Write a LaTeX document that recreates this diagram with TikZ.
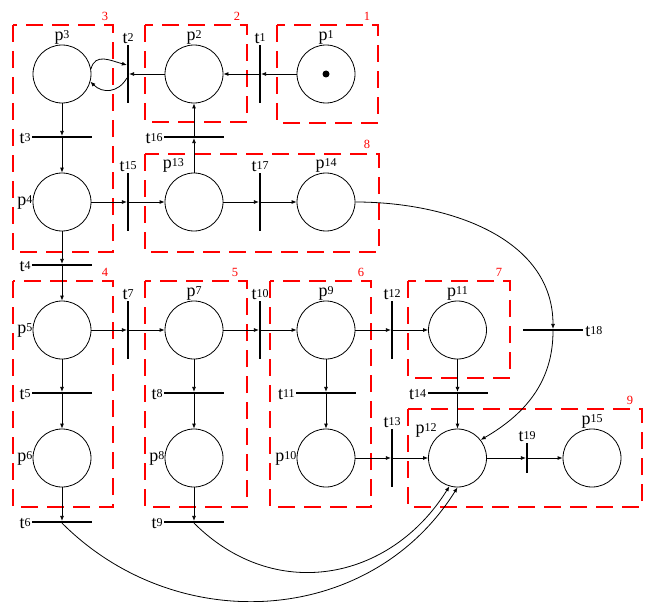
\documentclass[tikz,border=0pt]{standalone}
\usepackage{fontspec}
\setmainfont{Liberation Serif}
\usetikzlibrary{arrows.meta,calc}
\newcommand{\PN}[2]{#1\raisebox{2pt}{\fontsize{12}{12}\selectfont #2}}
\tikzset{
  place/.style={circle,draw,line width=0.8pt,minimum size=58pt,inner sep=0pt},
  tok/.style={circle,fill=black,minimum size=7pt,inner sep=0pt},
  vbar/.style={rectangle,fill=black,inner sep=0pt,minimum width=1.8pt,minimum height=58pt},
  hbar/.style={rectangle,fill=black,inner sep=0pt,minimum width=60pt,minimum height=1.8pt},
  arc/.style={-{Latex[length=5pt,width=4pt]},line width=0.8pt},
  zone/.style={draw=red,line width=1.8pt,dash pattern=on 17pt off 9pt},
  zlab/.style={text=red,font=\fontsize{12.5}{12.5}\selectfont,inner sep=0pt,anchor=south},
  lab/.style={inner sep=0pt,font=\fontsize{18}{18}\selectfont},
  labup/.style={lab,anchor=south},
  lableft/.style={lab,anchor=east},
  tup/.style={lab,anchor=south,yshift=1pt},
  tleft/.style={lab,anchor=east,xshift=-1pt,yshift=-1.5pt},
  tright/.style={lab,anchor=west,xshift=2pt,yshift=-1.5pt}
}
\begin{document}
\begin{tikzpicture}[x=1pt,y=1pt]
\useasboundingbox (0,0) rectangle (646,-602);
% zones
\draw[zone] (13,-25) rectangle (113,-252);
\draw[zone] (145,-25) rectangle (247,-122);
\draw[zone] (277,-25) rectangle (378,-123);
\draw[zone] (145,-154) rectangle (379,-252);
\draw[zone] (13,-281) rectangle (113,-507);
\draw[zone] (145,-281) rectangle (247,-507);
\draw[zone] (270,-281) rectangle (371,-507);
\draw[zone] (408,-281) rectangle (510,-378);
\draw[zone] (408,-409) rectangle (642,-507);
\node[zlab] (z3) at (105,-21) {3};
\node[zlab] (z2) at (237,-21) {2};
\node[zlab] (z1) at (367,-21) {1};
\node[zlab] (z8) at (367,-149) {8};
\node[zlab] (z4) at (105,-277) {4};
\node[zlab] (z5) at (235,-277) {5};
\node[zlab] (z6) at (361,-277) {6};
\node[zlab] (z7) at (499,-277) {7};
\node[zlab] (z9) at (630,-405) {9};
% places
\node[place] (p1) at (326,-74) {};
\node[tok] (tk) at (p1) {};
\node[place] (p2) at (194,-74) {};
\node[place] (p3) at (62,-74) {};
\node[place] (p4) at (62,-202) {};
\node[place] (p13) at (194,-202) {};
\node[place] (p14) at (326,-202) {};
\node[place] (p5) at (62,-330) {};
\node[place] (p7) at (194,-330) {};
\node[place] (p9) at (326,-330) {};
\node[place] (p11) at (457.5,-330) {};
\node[place] (p6) at (62,-458) {};
\node[place] (p8) at (194,-458) {};
\node[place] (p10) at (326,-458) {};
\node[place] (p12) at (457.5,-458) {};
\node[place] (p15) at (592,-458) {};
% place labels
\node[labup] (lp1) at (p1.north) {\PN{p}{1}};
\node[labup] (lp2) at (p2.north) {\PN{p}{2}};
\node[labup] (lp3) at (p3.north) {\PN{p}{3}};
\node[lableft] (lp4) at (p4.west) {\PN{p}{4}};
\node[lab,anchor=south east] (lp13) at ([xshift=-10pt]p13.north) {\PN{p}{13}};
\node[labup] (lp14) at (p14.north) {\PN{p}{14}};
\node[lableft] (lp5) at (p5.west) {\PN{p}{5}};
\node[labup] (lp7) at (p7.north) {\PN{p}{7}};
\node[labup] (lp9) at (p9.north) {\PN{p}{9}};
\node[labup] (lp11) at (p11.north) {\PN{p}{11}};
\node[lableft] (lp6) at (p6.west) {\PN{p}{6}};
\node[lableft] (lp8) at (p8.west) {\PN{p}{8}};
\node[lableft] (lp10) at (p10.west) {\PN{p}{10}};
\node[lab,anchor=south east] (lp12) at (p12.135) {\PN{p}{12}};
\node[labup] (lp15) at (p15.north) {\PN{p}{15}};
% transitions
\node[vbar] (t1) at (260,-74) {};
\node[vbar] (t2) at (128,-74) {};
\node[hbar] (t3) at (62,-137) {};
\node[hbar] (t16) at (194,-137) {};
\node[vbar] (t15) at (128,-202) {};
\node[vbar] (t17) at (260,-202) {};
\node[hbar] (t4) at (62,-265) {};
\node[vbar] (t7) at (128,-330) {};
\node[vbar] (t10) at (260,-330) {};
\node[vbar] (t12) at (392,-330) {};
\node[hbar] (t18) at (553,-330) {};
\node[hbar] (t5) at (62,-393) {};
\node[hbar] (t8) at (194,-393) {};
\node[hbar] (t11) at (326,-393) {};
\node[hbar] (t14) at (457.5,-393) {};
\node[vbar] (t13) at (392,-458) {};
\node[vbar,minimum height=30pt] (t19) at (527,-458) {};
\node[hbar] (t6) at (62,-522) {};
\node[hbar] (t9) at (194,-522) {};
% transition labels
\node[tup] (lt1) at (t1.north) {\PN{t}{1}};
\node[tup] (lt2) at (t2.north) {\PN{t}{2}};
\node[tleft] (lt3) at (t3.west) {\PN{t}{3}};
\node[tleft] (lt16) at (t16.west) {\PN{t}{16}};
\node[tup] (lt15) at (t15.north) {\PN{t}{15}};
\node[tup] (lt17) at (t17.north) {\PN{t}{17}};
\node[tleft] (lt4) at (t4.west) {\PN{t}{4}};
\node[tup] (lt7) at (t7.north) {\PN{t}{7}};
\node[tup] (lt10) at (t10.north) {\PN{t}{10}};
\node[tup] (lt12) at (t12.north) {\PN{t}{12}};
\node[tright] (lt18) at (t18.east) {\PN{t}{18}};
\node[tleft] (lt5) at (t5.west) {\PN{t}{5}};
\node[tleft] (lt8) at (t8.west) {\PN{t}{8}};
\node[tleft] (lt11) at (t11.west) {\PN{t}{11}};
\node[tleft] (lt14) at (t14.west) {\PN{t}{14}};
\node[tup] (lt13) at (t13.north) {\PN{t}{13}};
\node[tup] (lt19) at (t19.north) {\PN{t}{19}};
\node[tleft] (lt6) at (t6.west) {\PN{t}{6}};
\node[tleft] (lt9) at (t9.west) {\PN{t}{9}};
% arcs
\draw[arc] (p1) -- (t1);
\draw[arc] (t1) -- (p2);
\draw[arc] (p2) -- (t2);
\draw[arc] (p3.10) to[out=75,in=165,looseness=1.2] ([yshift=9pt]t2.west);
\draw[arc] ([yshift=-4pt]t2.west) to[out=-120,in=-45,looseness=1.2] (p3.-15);
\draw[arc] (p3) -- (t3);
\draw[arc] (t3) -- (p4);
\draw[arc] (p4) -- (t15);
\draw[arc] (t15) -- (p13);
\draw[arc] (p13) -- (t16);
\draw[arc] (t16) -- (p2);
\draw[arc] (p13) -- (t17);
\draw[arc] (t17) -- (p14);
\draw[arc] (p14.east) to[out=0,in=90] (t18);
\draw[arc] (t18) to[out=-90,in=30] (p12.38);
\draw[arc] (p4) -- (t4);
\draw[arc] (t4) -- (p5);
\draw[arc] (p5) -- (t7);
\draw[arc] (t7) -- (p7);
\draw[arc] (p7) -- (t10);
\draw[arc] (t10) -- (p9);
\draw[arc] (p9) -- (t12);
\draw[arc] (t12) -- (p11);
\draw[arc] (p11) -- (t14);
\draw[arc] (t14) -- (p12);
\draw[arc] (p5) -- (t5);
\draw[arc] (t5) -- (p6);
\draw[arc] (p7) -- (t8);
\draw[arc] (t8) -- (p8);
\draw[arc] (p9) -- (t11);
\draw[arc] (t11) -- (p10);
\draw[arc] (p10) -- (t13);
\draw[arc] (t13) -- (p12);
\draw[arc] (p12) -- (t19);
\draw[arc] (t19) -- (p15);
\draw[arc] (p6) -- (t6);
\draw[arc] (p8) -- (t9);
\draw[arc] (t6.south) to[out=-45,in=-122,looseness=1.05] (p12.-90);
\draw[arc] (t9.south) to[out=-45,in=-122,looseness=1.12] (p12.-106);
\end{tikzpicture}
\end{document}
